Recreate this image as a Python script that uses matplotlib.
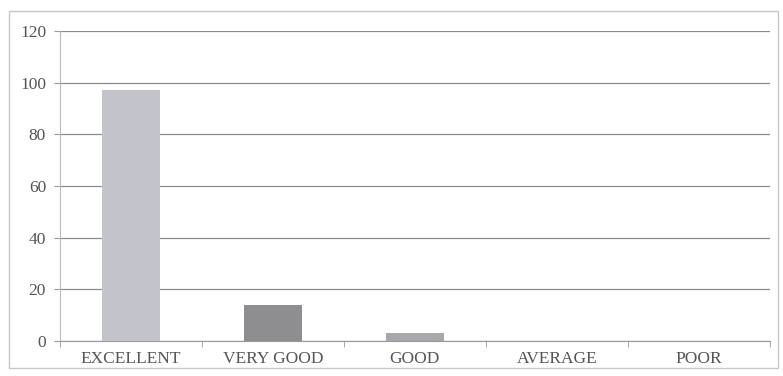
import matplotlib
matplotlib.use("Agg")
import matplotlib.pyplot as plt
from matplotlib.patches import Rectangle

categories = ["EXCELLENT", "VERY GOOD", "GOOD", "AVERAGE", "POOR"]
values = [97, 14, 3, 0, 0]
colors = ["#c3c3cb", "#8e8e90", "#a8a8ac", "#a8a8ac", "#a8a8ac"]
yticks = [0, 20, 40, 60, 80, 100, 120]

plt.rcParams['font.family'] = ['Liberation Serif', 'DejaVu Serif']

fig = plt.figure(figsize=(7.83, 3.76), dpi=100)
ax = fig.add_axes([0.0766, 0.093, 0.9064, 0.8246])

x = list(range(len(categories)))
ax.bar(x, values, width=0.41, color=colors, zorder=3)
ax.set_xlim(-0.5, len(categories) - 0.5)
ax.set_ylim(0, 120)
ax.set_yticks(yticks)
ax.set_xticks(x)
ax.set_xticklabels(categories)
ax.set_xticks([i + 0.5 for i in range(-1, len(categories))], minor=True)
ax.tick_params(axis='x', which='major', length=0, pad=7, labelsize=12.5, colors='#555555')
ax.tick_params(axis='x', which='minor', length=4, color='#999999')
ax.tick_params(axis='y', length=4, color='#999999', labelsize=12.5, colors='#555555', pad=6)
ax.yaxis.grid(True, color='#8a8a8a', linewidth=0.9, zorder=0)
for s in ['top', 'right']:
    ax.spines[s].set_visible(False)
ax.spines['left'].set_color('#bbbbbb')
ax.spines['bottom'].set_color('#999999')

fig.patches.append(Rectangle((0.011, 0.02), 0.982, 0.952, transform=fig.transFigure,
                             fill=False, edgecolor='#c8c8c8', linewidth=1.0))

fig.savefig("out.png", dpi=100)
